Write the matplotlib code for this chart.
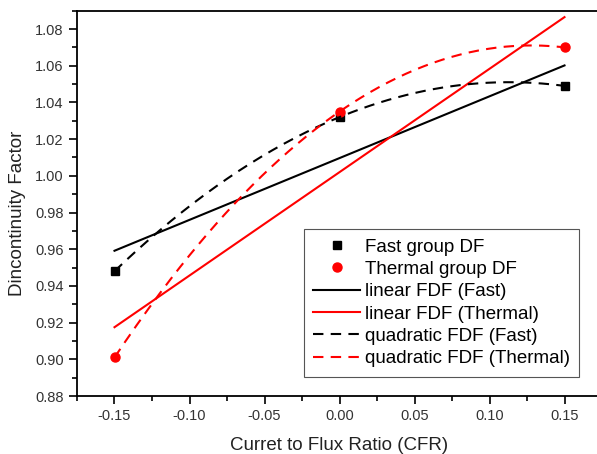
import numpy as np
import matplotlib
matplotlib.use("Agg")
import matplotlib.pyplot as plt
from matplotlib.ticker import MultipleLocator, FormatStrFormatter

plt.rcParams['font.family'] = ['Liberation Sans', 'DejaVu Sans']

cfr = [-0.15, 0.0, 0.15]
fast_df = [0.948, 1.032, 1.049]
thermal_df = [0.901, 1.035, 1.070]

fig = plt.figure(figsize=(5.97, 4.54), dpi=100)
ax = fig.add_axes([77/597, 58/454, 525/597, 385.3/454])

xs = np.linspace(min(cfr), max(cfr), 200)
lin_f = np.polyval(np.polyfit(cfr, fast_df, 1), xs)
lin_t = np.polyval(np.polyfit(cfr, thermal_df, 1), xs)
quad_f = np.polyval(np.polyfit(cfr, fast_df, 2), xs)
quad_t = np.polyval(np.polyfit(cfr, thermal_df, 2), xs)

dash = (0, (5, 3.5))
h1, = ax.plot(cfr, fast_df, 's', color='black', ms=6, ls='none', label='Fast group DF')
h2, = ax.plot(cfr, thermal_df, 'o', color='red', ms=6.5, ls='none', label='Thermal group DF')
h3, = ax.plot(xs, lin_f, '-', color='black', lw=1.5, label='linear FDF (Fast)')
h4, = ax.plot(xs, lin_t, '-', color='red', lw=1.5, label='linear FDF (Thermal)')
h5, = ax.plot(xs, quad_f, color='black', lw=1.5, ls=dash, label='quadratic FDF (Fast)')
h6, = ax.plot(xs, quad_t, color='red', lw=1.5, ls=dash, label='quadratic FDF (Thermal)')

ax.set_xlim(-0.175, 0.175)
ax.set_ylim(0.88, 1.09)
ax.xaxis.set_major_locator(MultipleLocator(0.05))
ax.xaxis.set_minor_locator(MultipleLocator(0.025))
ax.yaxis.set_major_locator(MultipleLocator(0.02))
ax.yaxis.set_minor_locator(MultipleLocator(0.01))
ax.xaxis.set_major_formatter(FormatStrFormatter('%.2f'))
ax.yaxis.set_major_formatter(FormatStrFormatter('%.2f'))
ax.tick_params(which='major', direction='out', length=6, width=1.2, labelsize=10.5, colors='black')
ax.tick_params(which='minor', direction='out', length=3.5, width=1.2)
ax.tick_params(axis='both', labelcolor='#333333')
for s in ax.spines.values():
    s.set_linewidth(1.3)

ax.set_xlabel('Curret to Flux Ratio (CFR)', fontsize=13.5, labelpad=10, color='#222222')
ax.set_ylabel('Dincontinuity Factor', fontsize=13.5, color='#222222')
ax.yaxis.set_label_coords(-0.097, 0.475)

leg = ax.legend(handles=[h1, h2, h3, h4, h5, h6], loc='upper left',
                bbox_to_anchor=((304-77)/525, (396-229)/385.3),
                fontsize=13.5, frameon=True, fancybox=False, framealpha=1,
                edgecolor='#555555', handlelength=2.5, handletextpad=0.25,
                labelspacing=0.28, borderpad=0.5, borderaxespad=0)
leg.get_frame().set_linewidth(0.8)

fig.savefig('out.png', dpi=100)
